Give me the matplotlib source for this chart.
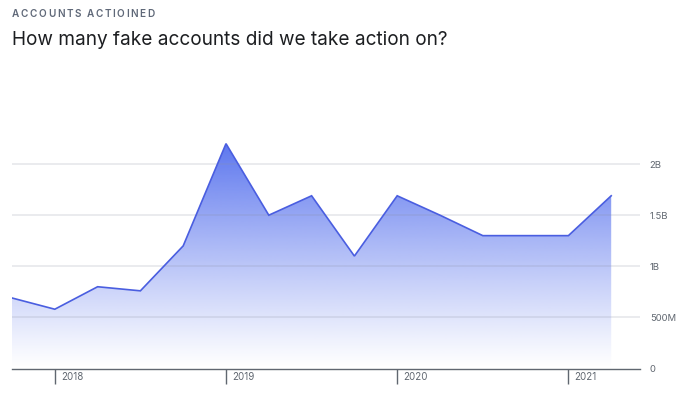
import numpy as np
import matplotlib.pyplot as plt
from matplotlib.patches import Polygon
import matplotlib.transforms as mtransforms

plt.rcParams['font.family'] = ['Inter', 'DejaVu Sans']

# quarterly fake accounts actioned, in billions (Q4 2017 .. Q2 2021)
values = [0.69, 0.58, 0.80, 0.76, 1.20, 2.20, 1.50, 1.69, 1.10,
          1.69, 1.50, 1.30, 1.30, 1.30, 1.69]
year_labels = ['2018', '2019', '2020', '2021']
year_pos = [1, 5, 9, 13]
y_ticks = [0, 0.5, 1.0, 1.5, 2.0]
y_tick_labels = ['0', '500M', '1B', '1.5B', '2B']

line_color = '#4a5ee0'
fill_color = '#4f6bed'
grey = '#606770'

fig = plt.figure(figsize=(7, 3.96), dpi=100)
ax = fig.add_axes([12 / 700, 27.5 / 396, 628 / 700, 235 / 396])

x = np.arange(len(values))
ax.set_xlim(0, 628 / 42.8)
ax.set_ylim(0, 235 / 102.2)

# gradient fill under the line
ymax = max(values)
grad = np.linspace(0, 1, 256).reshape(-1, 1)
rgba = np.zeros((256, 1, 4))
rgba[..., :3] = plt.matplotlib.colors.to_rgb(fill_color)
rgba[..., 3] = grad ** 1.1 * 0.92
img = ax.imshow(rgba, extent=[x[0], x[-1], 0, ymax], origin='lower',
                aspect='auto', zorder=1, interpolation='bilinear')
verts = [(x[0], 0)] + list(zip(x, values)) + [(x[-1], 0)]
clip = Polygon(verts, closed=True, transform=ax.transData, facecolor='none', edgecolor='none')
ax.add_patch(clip)
img.set_clip_path(clip)

ax.plot(x, values, color=line_color, lw=1.2, zorder=3, solid_joinstyle='miter')

# grid
for yv in y_ticks[1:]:
    ax.axhline(yv, color=(0.55, 0.57, 0.65, 0.2), lw=1.3, zorder=2)

ax.yaxis.tick_right()
ax.set_yticks(y_ticks)
ax.set_yticklabels(y_tick_labels)
ax.tick_params(axis='y', length=0, pad=7, labelsize=6.8, labelcolor=grey)

ax.set_xticks(year_pos)
ax.set_xticklabels([])
ax.tick_params(axis='x', direction='out', length=11, width=1, color=grey)
trans = mtransforms.blended_transform_factory(ax.transData, ax.transAxes)
for p, lab in zip(year_pos, year_labels):
    ax.text(p + 0.14, -0.038, lab, transform=trans, ha='left', va='center',
            fontsize=7, color=grey)

for s in ['top', 'left', 'right']:
    ax.spines[s].set_visible(False)
ax.spines['bottom'].set_color(grey)
ax.spines['bottom'].set_linewidth(1)

# letter-spaced kicker, placed char by char
renderer = fig.canvas.get_renderer()
kx = 12
for ch in 'ACCOUNTS ACTIOINED':
    t = fig.text(kx / 700, 1 - 14 / 396, ch, fontsize=7.2, fontweight='semibold',
                 color='#5f6878', va='center', ha='left')
    w = t.get_window_extent(renderer).width if ch != ' ' else 2.5
    kx += w + 1.6

fig.text(12 / 700, 1 - 40 / 396, 'How many fake accounts did we take action on?',
         fontsize=13.7, color='#1c1e21', va='center', ha='left')

fig.savefig('out.png', dpi=100)
